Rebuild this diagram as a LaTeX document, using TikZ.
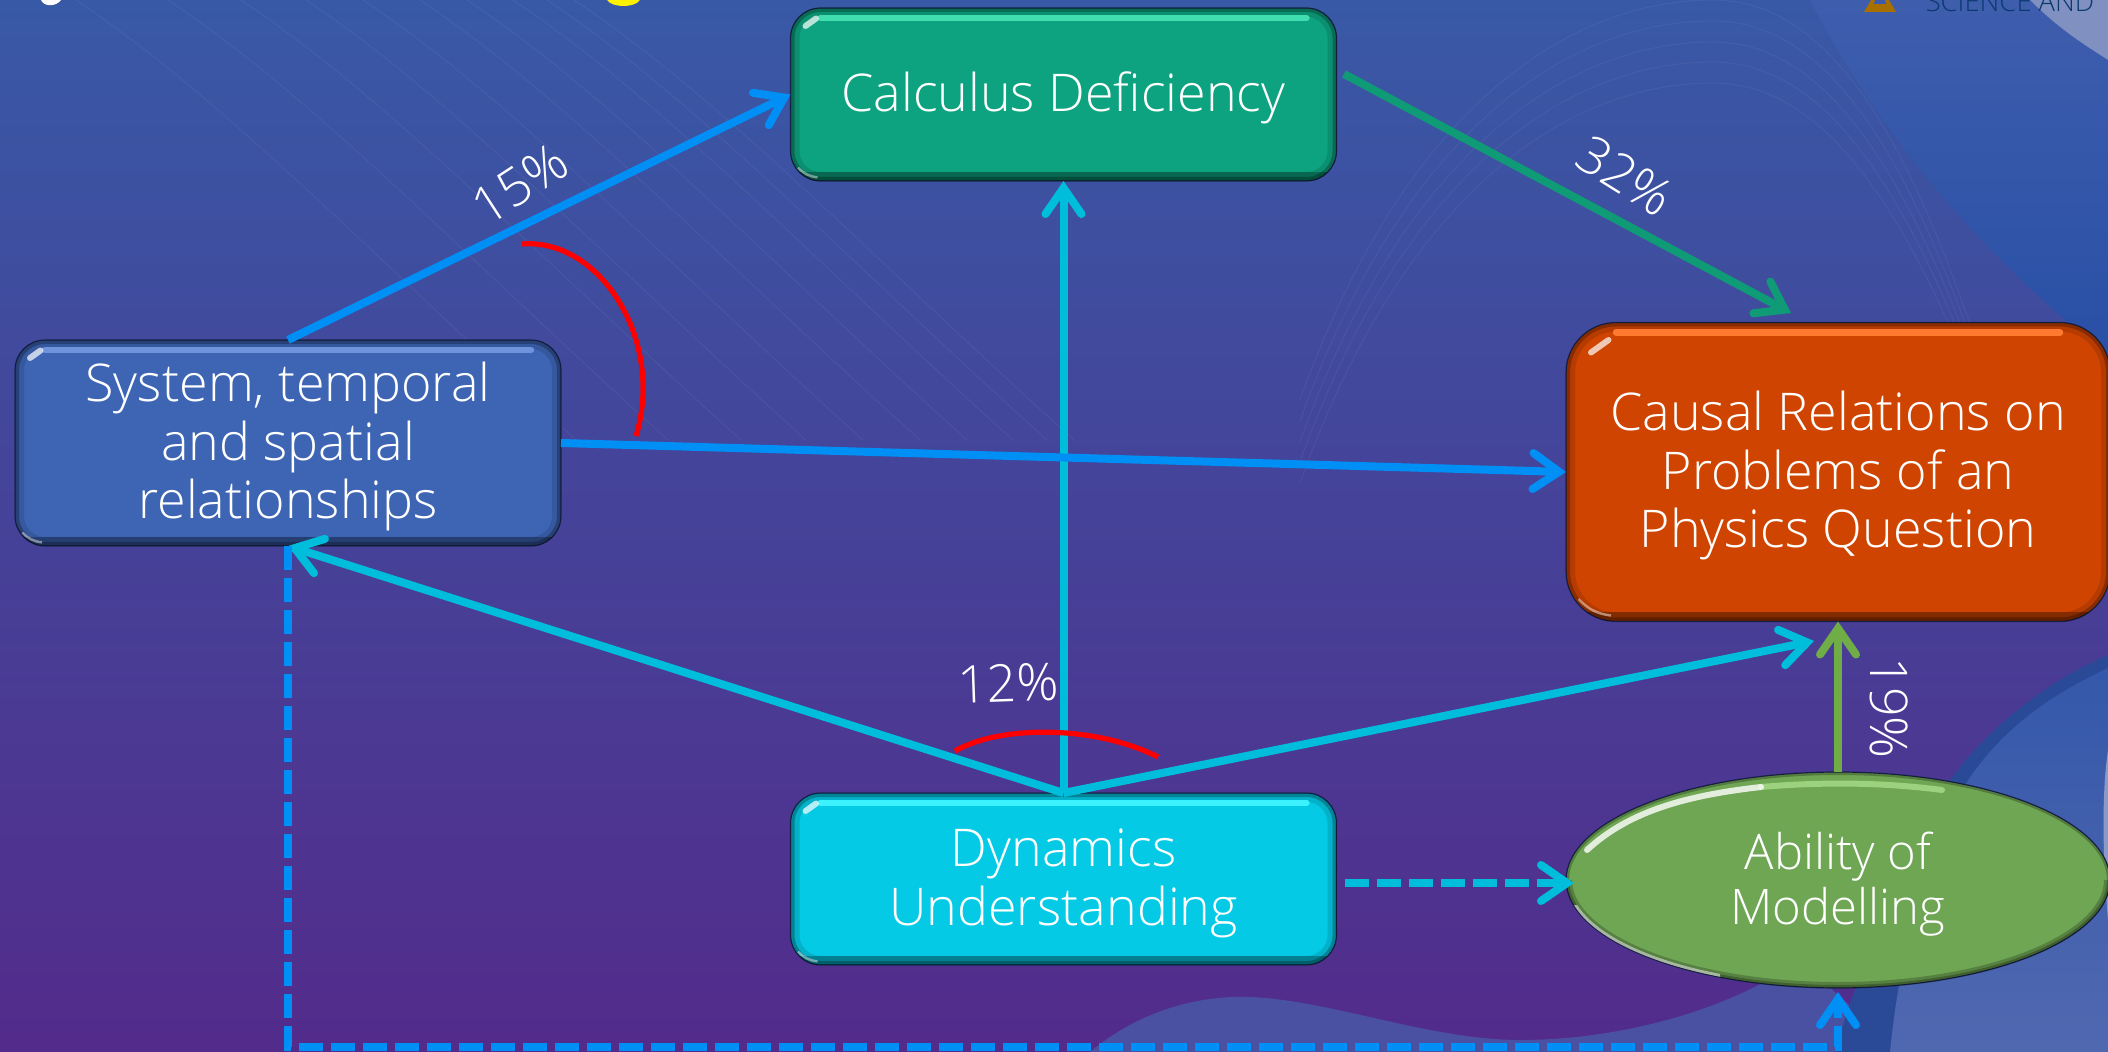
\documentclass[tikz,border=0pt]{standalone}
\usepackage{fontspec}
\setmainfont{Open Sans}[UprightFont=* Light,BoldFont=*]
\usetikzlibrary{arrows.meta,shapes.geometric}
\definecolor{bgtop}{HTML}{3859A6}
\definecolor{bgmid}{HTML}{44489D}
\definecolor{bgbot}{HTML}{532B8B}
\definecolor{cblue}{HTML}{0090F5}
\definecolor{ccyan}{HTML}{00BEDB}
\definecolor{cgreen}{HTML}{0E9B76}
\definecolor{cleaf}{HTML}{70AD47}
\definecolor{fillLeaf}{HTML}{6FA654}
\definecolor{waveA}{HTML}{3F5DAD}
\definecolor{waveB}{HTML}{2850A6}
\definecolor{waveC}{HTML}{8090C0}
\definecolor{waveD}{HTML}{4A50A2}
\definecolor{waveE}{HTML}{2A4A98}
\definecolor{waveF}{HTML}{3558AA}
\definecolor{waveG}{HTML}{5068B0}
\definecolor{waveH}{HTML}{8A9AC8}
\definecolor{logoA}{HTML}{A87000}
\definecolor{logoB}{HTML}{3E5AAA}
\definecolor{logoT}{HTML}{0B3A70}
\definecolor{fillSys}{HTML}{3D65B4}
\definecolor{fillCalc}{HTML}{0EA380}
\definecolor{fillCause}{HTML}{CF4400}
\definecolor{fillDyn}{HTML}{04CAE5}
\definecolor{hiSys}{HTML}{6F93DC}
\definecolor{hiCalc}{HTML}{3FDDB0}
\definecolor{hiCause}{HTML}{FF7A30}
\definecolor{hiDyn}{HTML}{3CF2FF}
\definecolor{hiLeaf}{HTML}{A8DC88}
\definecolor{edgeDark}{HTML}{1B2550}
% centred lines, set slightly below the middle of the shape
\newcommand{\lowlines}[1]{\raisebox{0pt}[\dimexpr\height+5.5pt\relax]{\begin{tabular}{@{}c@{}}#1\end{tabular}}}
\tikzset{
  x=0.5pt,y=-0.5pt,
  boxnode/.style={draw=edgeDark,line width=0.6pt,inner sep=0pt,outer sep=0pt,text=white,
     font=\fontsize{26}{29.2}\selectfont},
  link/.style={line width=4pt,-{Straight Barb[length=13pt,width=18pt,line cap=round,line join=miter]}},
  dashlink/.style={link,dash pattern=on 12pt off 4pt},
  arcmark/.style={draw=red,line width=2.6pt},
  pct/.style={text=white,inner sep=0pt,font=\fontsize{26}{28}\selectfont},
  contour/.style={white,opacity=0.05,line width=0.5pt}
}
% bevel of a rounded box: name, radius, highlight colour
\newcommand{\boxbevel}[3]{%
  \begin{scope}
    \clip[rounded corners=#2] (#1.south west) rectangle (#1.north east);
    \draw[rounded corners=#2,black,opacity=0.12,line width=9pt] (#1.south west) rectangle (#1.north east);
    \draw[rounded corners=#2,black,opacity=0.25,line width=4pt] (#1.south west) rectangle (#1.north east);
    \fill[black,opacity=0.28] ([yshift=4.5pt]#1.south west) rectangle (#1.south east);
    \draw[#3,line width=3.2pt,line cap=round] ([xshift=#2,yshift=-5pt]#1.north west) -- ([xshift=-#2,yshift=-5pt]#1.north east);
    \draw[white,opacity=0.7,line width=3pt,line cap=round] ([xshift=0.5*#2,yshift=-0.6*#2]#1.north west) -- ([xshift=0.85*#2,yshift=-0.35*#2]#1.north west);
    \draw[white,opacity=0.45,line width=1.2pt] ([xshift=0.25*#2,yshift=0.45*#2]#1.south west) to[bend right=20] ([xshift=0.9*#2,yshift=0.12*#2]#1.south west);
  \end{scope}}
\begin{document}
\begin{tikzpicture}
\useasboundingbox (0,0) rectangle (2108,1052);
\clip (0,0) rectangle (2108,1052);
% background
\shade[top color=bgtop,middle color=bgmid,bottom color=bgbot] (0,0) rectangle (2108,1052);
\foreach \a in {76,168,241,306,363,420,467,513,547,574}
  \draw[contour] (\a,0) .. controls (\a+150,100) and (\a+300,260) .. (\a+500,440);
\foreach \t in {0,21,42,62,83}
  \draw[contour] (1300,400+\t) .. controls (1400,120+\t) and (1560,\t) .. (1713,\t) .. controls (1860,\t) and (1950,220+\t) .. (2040,560);
% top right waves
\shade[top color=waveA,bottom color=waveB] (1810,0) .. controls (1860,100) and (1960,240) .. (2108,355) -- (2108,0) -- cycle;
\fill[waveC] (2030,0) .. controls (2060,30) and (2085,45) .. (2108,60) -- (2108,0) -- cycle;
% bottom waves
\fill[waveD] (1090,1052) .. controls (1140,1010) and (1200,995) .. (1250,997) .. controls (1330,1000) and (1430,1040) .. (1520,1040) .. controls (1620,1040) and (1730,1010) .. (1800,960) -- (1900,1052) -- cycle;
\fill[waveE] (1835,1052) .. controls (1860,960) and (1910,860) .. (1950,780) .. controls (1990,725) and (2050,680) .. (2108,655) -- (2108,1052) -- cycle;
\shade[top color=waveF,bottom color=waveG] (1890,1052) .. controls (1900,950) and (1925,860) .. (1965,785) .. controls (2000,730) and (2050,695) .. (2108,668) -- (2108,1052) -- cycle;
\fill[waveH] (2108,750) .. controls (2102,790) and (2102,850) .. (2108,920) -- cycle;
% clipped header remnants
\fill[white] (41,0) .. controls (44,7) and (56,7) .. (61,0) -- cycle;
\fill[yellow] (607,0) .. controls (612,8) and (635,8) .. (640,0) -- cycle;
\fill[logoA] (1864,12) -- (1896,12) -- (1889,0) -- (1871,0) -- cycle;
\fill[logoB] (1874,4) -- (1886,4) -- (1885,0) -- (1875,0) -- cycle;
\node[anchor=base,inner sep=0pt,text=logoT,font=\fontsize{13.7}{15}\selectfont] (logo) at (2010,12) {SCIENCE AND};
% nodes
\node[boxnode,rounded corners=15pt,fill=fillSys,minimum width=273pt,minimum height=103pt] (sys) at (288,443) {\lowlines{System, temporal\\and spatial\\relationships}};
\node[boxnode,rounded corners=15pt,fill=fillCalc,minimum width=273pt,minimum height=86.5pt] (calc) at (1063.5,94.5) {\lowlines{Calculus Deficiency}};
\node[boxnode,rounded corners=25pt,fill=fillCause,minimum width=272pt,minimum height=149.5pt] (cause) at (1838,472) {\lowlines{Causal Relations on\\Problems of an\\Physics Question}};
\node[boxnode,rounded corners=15pt,fill=fillDyn,minimum width=273pt,minimum height=86pt] (dyn) at (1063.5,879) {\lowlines{Dynamics\\Understanding}};
\node[boxnode,ellipse,fill=fillLeaf,minimum width=272pt,minimum height=108pt,font=\fontsize{24.5}{27.5}\selectfont] (abil) at (1838,880) {\lowlines{Ability of\\Modelling}};
\boxbevel{sys}{15pt}{hiSys}
\boxbevel{calc}{15pt}{hiCalc}
\boxbevel{cause}{25pt}{hiCause}
\boxbevel{dyn}{15pt}{hiDyn}
\begin{scope}
  \clip (abil.center) ellipse [x radius=272,y radius=108];
  \draw[black,opacity=0.25,line width=3pt] (abil.center) ellipse [x radius=272,y radius=108];
  \begin{scope}
    \clip (1566,880) rectangle (2108,990);
    \draw[black,opacity=0.22,line width=6pt] (abil.center) ellipse [x radius=272,y radius=108];
  \end{scope}
  \begin{scope}
    \clip (1566,905) rectangle (1720,990);
    \draw[white,opacity=0.55,line width=1.4pt] (abil.center) ellipse [x radius=270,y radius=106];
  \end{scope}
  \draw[hiLeaf,opacity=0.8,line width=3pt,line cap=round] (1761,787) .. controls (1820,782) and (1880,782) .. (1942,790);
  \draw[white,opacity=0.8,line width=3pt,line cap=round] (1587,850) .. controls (1630,810) and (1690,795) .. (1761,787);
\end{scope}
% connector end points
\coordinate (gTail) at (1344,74);
\coordinate (gTip) at (1791,313);
\coordinate (cTip) at (1814,641);
\coordinate (turn) at (288,1047);
% connectors
\draw[link,ccyan] (dyn.north) -- (calc.south);
\draw[link,ccyan] (dyn.north) -- (sys.south);
\draw[link,ccyan] (dyn.north) -- (cTip);
\draw[link,cblue] (sys.north) -- (calc.west);
\draw[link,cblue] (sys.east) -- (cause.west);
\draw[link,cgreen] (gTail) -- (gTip);
\draw[link,cleaf] (abil.north) -- (cause.south);
\draw[dashlink,ccyan,shorten <=4pt,shorten >=-4pt] ([yshift=-2pt]dyn.east) -- ([yshift=-1.5pt]abil.west);
\draw[dashlink,cblue,shorten >=2pt] (sys.south) -- (turn) -- (turn -| abil.south) -- (abil.south);
% angle marks
\draw[arcmark] (522,244) .. controls (600,238) and (665,340) .. (636,436);
\draw[arcmark] (955,751) .. controls (1000,725) and (1095,725) .. (1158,757);
% percentages
\node[pct,rotate=33] (p15) at (520,184) {15\%};
\node[pct,rotate=-32] (p32) at (1625,176) {32\%};
\node[pct,rotate=2] (p12) at (1008,683) {12\%};
\node[pct,rotate=-90] (p19) at (1889,708) {19\%};
\end{tikzpicture}
\end{document}
